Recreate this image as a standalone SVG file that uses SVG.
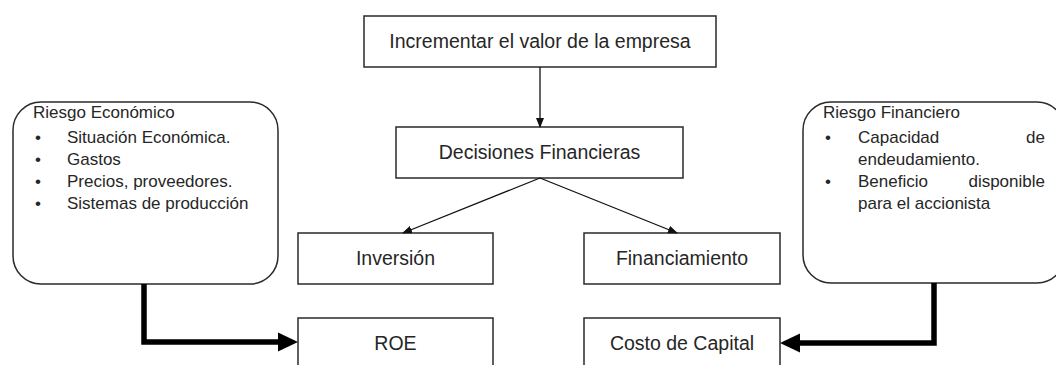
<svg xmlns="http://www.w3.org/2000/svg" width="1056" height="365" viewBox="0 0 1056 365">
<style>
.box{fill:#fff;stroke:#2a2a2a;stroke-width:1.5}
.rbox{fill:#fff;stroke:#2a2a2a;stroke-width:1.5}
.lbl{font-family:"Liberation Sans",Arial,sans-serif;font-size:19.5px;fill:#262626;text-anchor:middle}
.sm{font-family:"Liberation Sans",Arial,sans-serif;font-size:17px;fill:#262626}
.thin{stroke:#111;stroke-width:1.3;fill:none}
.thick{stroke:#000;stroke-width:5.5;fill:none}
</style>
<defs>
<marker id="ah" markerWidth="10" markerHeight="8" refX="9" refY="4" orient="auto" markerUnits="userSpaceOnUse">
<path d="M0,0 L10,4 L0,8 z" fill="#111"/>
</marker>
</defs>
<rect width="1056" height="365" fill="#fff"/>
<g id="n-incrementar">
<rect class="box" x="364" y="16" width="352" height="51"/>
<text class="lbl" x="540" y="48">Incrementar el valor de la empresa</text>
</g>
<g id="n-decisiones">
<rect class="box" x="396" y="127" width="287" height="51"/>
<text class="lbl" x="539.5" y="159">Decisiones Financieras</text>
</g>
<g id="n-inversion">
<rect class="box" x="298" y="233" width="195" height="51"/>
<text class="lbl" x="395.5" y="265">Inversión</text>
</g>
<g id="n-financiamiento">
<rect class="box" x="584" y="233" width="196" height="51"/>
<text class="lbl" x="682" y="265">Financiamiento</text>
</g>
<g id="n-roe">
<rect class="box" x="298" y="318" width="195" height="60"/>
<text class="lbl" x="395.5" y="350">ROE</text>
</g>
<g id="n-costo">
<rect class="box" x="584" y="318" width="196" height="60"/>
<text class="lbl" x="682" y="350">Costo de Capital</text>
</g>
<g id="n-riesgo-economico">
<rect class="rbox" x="13" y="102" width="265" height="182" rx="28" ry="28"/>
<text class="sm" x="33" y="118">Riesgo Económico</text>
<text class="sm" x="35" y="143">•</text><text class="sm" x="67" y="143">Situación Económica.</text>
<text class="sm" x="35" y="165">•</text><text class="sm" x="67" y="165">Gastos</text>
<text class="sm" x="35" y="187">•</text><text class="sm" x="67" y="187">Precios, proveedores.</text>
<text class="sm" x="35" y="209">•</text><text class="sm" x="67" y="209">Sistemas de producción</text>
</g>
<g id="n-riesgo-financiero">
<rect class="rbox" x="803" y="102" width="262" height="181" rx="28" ry="28"/>
<text class="sm" x="823" y="118">Riesgo Financiero</text>
<text class="sm" x="825" y="143">•</text><text class="sm" x="858" y="143">Capacidad</text><text class="sm" x="1045" y="143" text-anchor="end">de</text>
<text class="sm" x="858" y="165">endeudamiento.</text>
<text class="sm" x="825" y="187">•</text><text class="sm" x="858" y="187">Beneficio</text><text class="sm" x="1045" y="187" text-anchor="end">disponible</text>
<text class="sm" x="858" y="209">para el accionista</text>
</g>
<g id="connectors">
<line class="thin" x1="540" y1="67" x2="540" y2="127" marker-end="url(#ah)"/>
<line class="thin" x1="540" y1="178" x2="403" y2="233" marker-end="url(#ah)"/>
<line class="thin" x1="540" y1="178" x2="677" y2="233" marker-end="url(#ah)"/>
<path class="thick" d="M144,284 V342 H282"/>
<polygon points="278,332.5 298,342 278,351.5" fill="#000"/>
<path class="thick" d="M934,283 V343 H796"/>
<polygon points="800,333.5 780,343 800,352.5" fill="#000"/>
</g>
</svg>
